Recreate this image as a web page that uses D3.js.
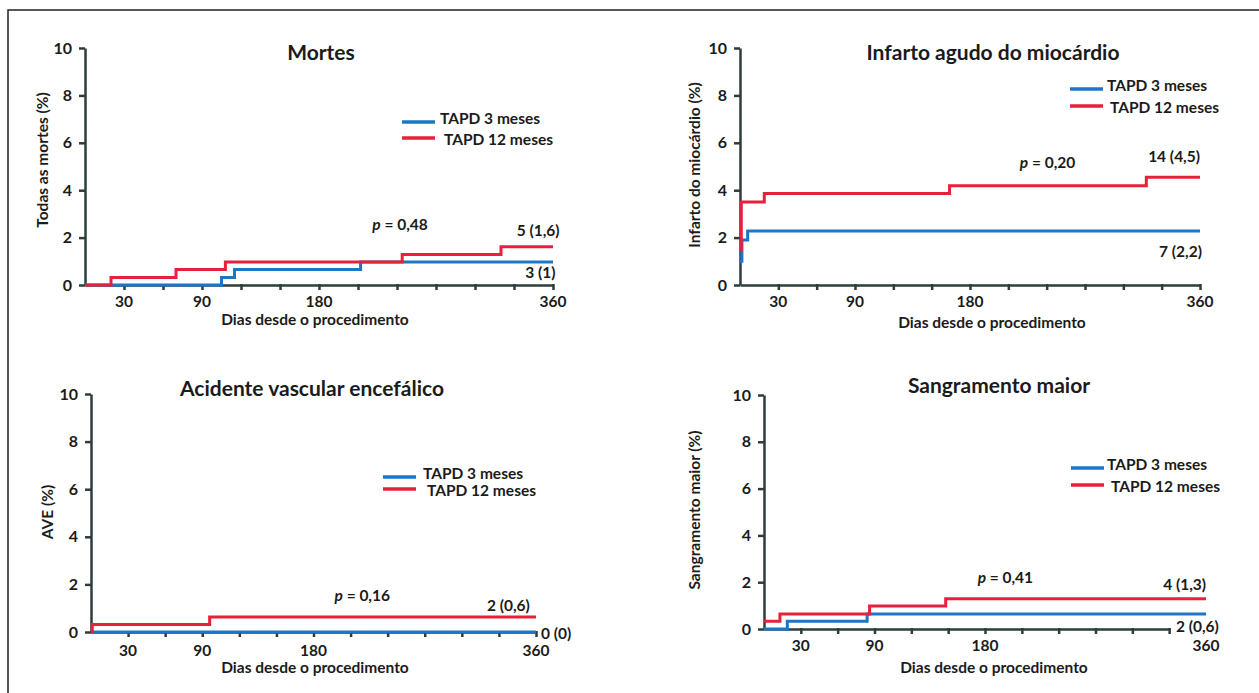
<!DOCTYPE html>
<html>
<head>
<meta charset="utf-8">
<script src="https://cdn.jsdelivr.net/npm/d3@7"></script>
<style>
  body { margin: 0; background: #fff; }
  svg { display: block; font-family: Lato, "Noto Sans", sans-serif; font-weight: bold; }
</style>
</head>
<body>
<div class="chart-div"></div>
<script>
const W = 1259;
const H = 693;

// data
const seriesNames = ["TAPD 3 meses", "TAPD 12 meses"];
const yTicks = [0, 2, 4, 6, 8, 10];
const xLabelTicks = [30, 90, 180, 360];

const mortes3Days = [0, 105, 115, 212, 360];
const mortes3Vals = [0, 0.32, 0.65, 0.97, 0.97];
const mortes12Days = [0, 20, 70, 108, 244, 320, 360];
const mortes12Vals = [0, 0.32, 0.65, 0.97, 1.29, 1.61, 1.61];

const iam3Days = [0, 1.5, 6, 360];
const iam3Vals = [1.0, 1.9, 2.28, 2.28];
const iam12Days = [0, 1, 19, 164, 318, 360];
const iam12Vals = [1.5, 3.5, 3.86, 4.19, 4.55, 4.55];

const ave3Days = [0, 360];
const ave3Vals = [0, 0];
const ave12Days = [0, 1, 96, 360];
const ave12Vals = [0, 0.31, 0.63, 0.63];

const sang3Days = [0, 19, 84, 360];
const sang3Vals = [0, 0.33, 0.64, 0.64];
const sang12Days = [0, 13, 86, 148, 360];
const sang12Vals = [0.33, 0.64, 0.98, 1.29, 1.29];

const colors = ["#1c76c8", "#e8213a"];
const axisColor = "#2e3c3e";
const fs = 15.5;

// panel layout
const panels = [
  {
    title: "Mortes", yLabel: "Todas as mortes (%)",
    x0: 85, x1: 553, yTop: 48, yBot: 285, axisEnd: 360,
    titleX: 321, titleY: 53, yLabX: 43, yLabY: 160, xLabX: 315, xLabY: 320, tickLabDy: 17,
    legX: 402, legY: 122, legGap: 16, legTx: [38, 42],
    s3: [mortes3Days, mortes3Vals], s12: [mortes12Days, mortes12Vals],
    pval: "0,48", pDay: 221, pVal: 2.53,
    notes: [{t: "5 (1,6)", d: 365, v: 2.28, a: "end"}, {t: "3 (1)", d: 362, v: 0.51, a: "end"}]
  },
  {
    title: "Infarto agudo do miocárdio", yLabel: "Infarto do miocárdio (%)",
    x0: 740, x1: 1200, yTop: 48, yBot: 285, axisEnd: 360,
    titleX: 993, titleY: 53, yLabX: 695, yLabY: 165, xLabX: 992, xLabY: 323, tickLabDy: 17,
    legX: 1070, legY: 89, legGap: 17, legTx: [37, 40],
    s3: [iam3Days, iam3Vals], s12: [iam12Days, iam12Vals],
    pval: "0,20", pDay: 219, pVal: 5.15,
    notes: [{t: "14 (4,5)", d: 360, v: 5.4, a: "end"}, {t: "7 (2,2)", d: 361.5, v: 1.39, a: "end"}]
  },
  {
    title: "Acidente vascular encefálico", yLabel: "AVE (%)",
    x0: 91, x1: 536, yTop: 394, yBot: 632, axisEnd: 360,
    titleX: 312, titleY: 389, yLabX: 48, yLabY: 512, xLabX: 315, xLabY: 668, tickLabDy: 19,
    legX: 383, legY: 477, legGap: 12, legTx: [40, 44],
    s3: [ave3Days, ave3Vals], s12: [ave12Days, ave12Vals],
    pval: "0,16", pDay: 197, pVal: 1.55,
    notes: [{t: "2 (0,6)", d: 355, v: 1.13, a: "end"}, {t: "0 (0)", d: 364, v: -0.08, a: "start"}]
  },
  {
    title: "Sangramento maior", yLabel: "Sangramento maior (%)",
    x0: 764, x1: 1206, yTop: 395, yBot: 629, axisEnd: 330,
    titleX: 999, titleY: 386, yLabX: 695, yLabY: 510, xLabX: 994, xLabY: 668, tickLabDy: 17,
    legX: 1071, legY: 468, legGap: 17, legTx: [36, 40],
    s3: [sang3Days, sang3Vals], s12: [sang12Days, sang12Vals],
    pval: "0,41", pDay: 174, pVal: 2.18,
    notes: [{t: "4 (1,3)", d: 360, v: 1.88, a: "end"}, {t: "2 (0,6)", d: 335.5, v: 0.09, a: "start"}]
  }
];

const svg = d3.select(".chart-div")
  .append("svg")
  .attr("width", W)
  .attr("height", H);

// frame
svg.append("path")
  .attr("d", `M8,${H} L8,10 L${W},10`)
  .attr("fill", "none")
  .attr("stroke", "#222")
  .attr("stroke-width", 1.5);

const textCol = "#1b1b1b";

panels.forEach(p => {
  const x = d3.scaleLinear().domain([0, 360]).range([p.x0, p.x1]);
  const y = d3.scaleLinear().domain([0, 10]).range([p.yBot, p.yTop]);
  const g = svg.append("g");

  // x axis (may stop before 360)
  const xAxisScale = d3.scaleLinear().domain([0, p.axisEnd]).range([p.x0, x(p.axisEnd)]);
  const xAx = g.append("g")
    .attr("transform", `translate(0,${p.yBot})`)
    .call(d3.axisBottom(xAxisScale)
      .tickValues(d3.range(30, p.axisEnd + 1, 30))
      .tickSizeInner(5).tickSizeOuter(0)
      .tickFormat(""));
  xAx.select(".domain").attr("stroke", axisColor).attr("stroke-width", 2.5);
  xAx.selectAll(".tick line").attr("stroke", axisColor).attr("stroke-width", 2.5).attr("y1", -1);

  // x tick labels
  g.selectAll(".xlab")
    .data(xLabelTicks)
    .enter().append("text")
    .attr("x", d => x(d))
    .attr("y", p.yBot + p.tickLabDy)
    .attr("dy", "0.35em")
    .attr("text-anchor", "middle")
    .attr("font-size", fs)
    .attr("fill", textCol)
    .text(d => d);

  // y axis
  const yAx = g.append("g")
    .attr("transform", `translate(${p.x0},0)`)
    .call(d3.axisLeft(y).tickValues(yTicks).tickSizeInner(6).tickSizeOuter(0).tickPadding(7));
  yAx.select(".domain").attr("stroke", axisColor).attr("stroke-width", 2.5);
  yAx.selectAll(".tick line").attr("stroke", axisColor).attr("stroke-width", 2.5);
  yAx.selectAll(".tick text")
    .attr("font-family", "Lato, 'Noto Sans', sans-serif")
    .attr("font-weight", "bold")
    .attr("font-size", 16)
    .attr("fill", textCol);

  // title
  g.append("text")
    .attr("x", p.titleX).attr("y", p.titleY)
    .attr("dy", "0.35em")
    .attr("text-anchor", "middle")
    .attr("font-size", 21)
    .attr("fill", textCol)
    .text(p.title);

  // axis titles
  g.append("text")
    .attr("transform", `translate(${p.yLabX},${p.yLabY}) rotate(-90)`)
    .attr("dy", "0.35em")
    .attr("text-anchor", "middle")
    .attr("font-size", fs)
    .attr("fill", textCol)
    .text(p.yLabel);

  g.append("text")
    .attr("x", p.xLabX).attr("y", p.xLabY)
    .attr("dy", "0.35em")
    .attr("text-anchor", "middle")
    .attr("font-size", fs)
    .attr("fill", textCol)
    .text("Dias desde o procedimento");

  // step curves
  const line = d3.line()
    .x(d => x(d[0]))
    .y(d => y(d[1]))
    .curve(d3.curveStepAfter);

  [p.s3, p.s12].forEach((s, i) => {
    const pts = s[0].map((d, k) => [d, s[1][k]]);
    g.append("path")
      .datum(pts)
      .attr("d", line)
      .attr("fill", "none")
      .attr("stroke", colors[i])
      .attr("stroke-width", 3);
  });

  // legend
  seriesNames.forEach((name, i) => {
    const ly = p.legY + i * p.legGap;
    g.append("line")
      .attr("x1", p.legX).attr("x2", p.legX + 33)
      .attr("y1", ly).attr("y2", ly)
      .attr("stroke", colors[i])
      .attr("stroke-width", 3.5);
    g.append("text")
      .attr("x", p.legX + p.legTx[i])
      .attr("y", ly - (i === 0 ? 3 : -2))
      .attr("dy", "0.35em")
      .attr("font-size", fs)
      .attr("fill", textCol)
      .text(name);
  });

  // p value
  const pt = g.append("text")
    .attr("x", x(p.pDay)).attr("y", y(p.pVal))
    .attr("dy", "0.35em")
    .attr("font-size", fs)
    .attr("fill", textCol);
  pt.append("tspan").attr("font-style", "italic").text("p");
  pt.append("tspan").text(" = " + p.pval);

  // end annotations
  p.notes.forEach(n => {
    g.append("text")
      .attr("x", x(n.d)).attr("y", y(n.v))
      .attr("dy", "0.35em")
      .attr("text-anchor", n.a)
      .attr("font-size", fs)
      .attr("fill", textCol)
      .text(n.t);
  });
});
</script>
</body>
</html>
